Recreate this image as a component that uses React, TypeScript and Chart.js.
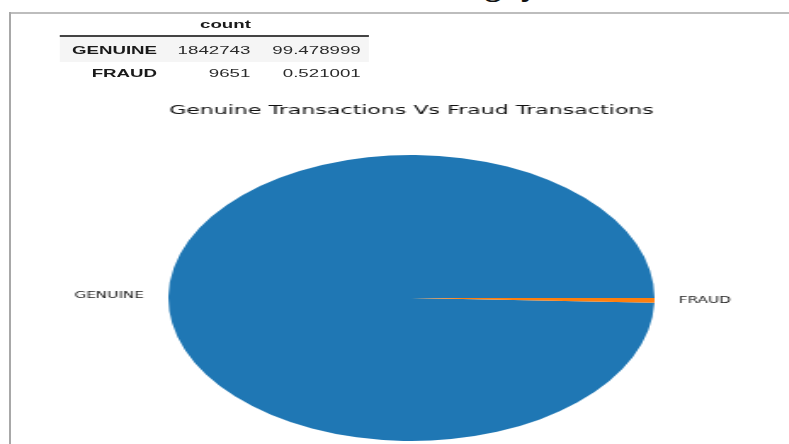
import React, { useEffect, useRef } from 'react';
import { Chart, registerables } from 'chart.js';
Chart.register(...registerables);

const categories = ['GENUINE', 'FRAUD'];
const counts = [1842743, 9651];
const percents = [99.478999, 0.521001];
const colors = ['#1f77b4', '#ff7f0e'];
const titleText = 'Genuine Transactions Vs Fraud Transactions';
const countHeader = 'count';

const SX = 1.7;
const W = 464;
const H = 444;

function Txt(props: { text: string; right: number; baseline: number; bold?: boolean }) {
  return (
    <div
      style={{
        position: 'absolute',
        right: W - props.right,
        top: props.baseline - 9.3,
        fontFamily: '"Liberation Sans", Arial, sans-serif',
        fontSize: 11,
        lineHeight: '11px',
        fontWeight: props.bold ? 'bold' : 'normal',
        color: props.bold ? '#1a1a1a' : '#2a2a2a',
        whiteSpace: 'nowrap',
      }}
    >
      {props.text}
    </div>
  );
}

export default function App() {
  const ref = useRef<HTMLCanvasElement>(null);
  useEffect(() => {
    const labelPlugin = {
      id: 'pieLabels',
      afterDatasetsDraw(chart: any) {
        const ctx = chart.ctx;
        const meta = chart.getDatasetMeta(0);
        ctx.save();
        ctx.font = '9px "DejaVu Sans"';
        ctx.fillStyle = '#222';
        ctx.textBaseline = 'middle';
        meta.data.forEach((arc: any, i: number) => {
          const p = arc.getProps(['x', 'y', 'startAngle', 'endAngle', 'outerRadius'], true);
          const mid = (p.startAngle + p.endAngle) / 2;
          const lx = p.x + Math.cos(mid) * p.outerRadius * 1.1;
          const ly = p.y + Math.sin(mid) * p.outerRadius * 1.1;
          ctx.textAlign = Math.cos(mid) >= 0 ? 'left' : 'right';
          ctx.fillText(chart.data.labels[i], lx, ly);
        });
        ctx.restore();
      },
    };
    const total = counts.reduce((a, b) => a + b, 0);
    const chart = new Chart(ref.current as HTMLCanvasElement, {
      type: 'pie',
      data: {
        labels: categories,
        datasets: [{ data: counts, backgroundColor: colors, borderWidth: 0, hoverOffset: 0 }],
      },
      options: {
        responsive: false,
        animation: false,
        devicePixelRatio: 1,
        events: [],
        rotation: 90 + (counts[1] / total) * 360,
        layout: { padding: { left: 99, right: 79, top: 0, bottom: 3 } },
        plugins: {
          legend: { display: false },
          tooltip: { enabled: false },
          title: {
            display: true,
            text: titleText,
            color: '#111',
            font: { family: 'DejaVu Sans', size: 13, weight: 'normal', lineHeight: 1.2 },
            padding: { top: 102.5, bottom: 36.9 },
          },
        },
      } as any,
      plugins: [labelPlugin],
    });
    return () => chart.destroy();
  }, []);

  const rowBase = [54, 77];
  return (
    <div style={{ position: 'absolute', left: 0, top: 0, width: 789, height: 444, overflow: 'hidden', background: '#fff' }}>
      <span style={{ position: 'absolute', left: 483, top: -40, fontFamily: '"Liberation Serif", serif', fontSize: 40, lineHeight: '40px', color: '#111' }}>g</span>
      <span style={{ position: 'absolute', left: 521, top: -40, fontFamily: '"Liberation Serif", serif', fontSize: 40, lineHeight: '40px', color: '#111' }}>y</span>
      <div style={{ position: 'absolute', left: 9, top: 12, width: 780, height: 2, background: '#bdbdbd' }} />
      <div style={{ position: 'absolute', left: 9, top: 12, width: 2, height: 432, background: '#a8a8a8' }} />
      <div
        style={{
          position: 'absolute',
          left: 0,
          top: 0,
          width: W,
          height: H,
          transform: `scaleX(${SX})`,
          transformOrigin: '0 0',
        }}
      >
        <canvas ref={ref} width={W} height={H} style={{ position: 'absolute', left: 0, top: 0, width: W, height: H }} />
        <div style={{ position: 'absolute', left: 35.3, top: 37, width: 181.7, height: 25, background: '#f5f5f5' }} />
        <div style={{ position: 'absolute', left: 35.3, top: 35, width: 181.7, height: 2, background: '#444' }} />
        <Txt text={countHeader} right={147.6} baseline={28} bold />
        {categories.map((c, i) => (
          <React.Fragment key={c}>
            <Txt text={c} right={92.4} baseline={rowBase[i]} bold />
            <Txt text={String(counts[i])} right={147.3} baseline={rowBase[i]} />
            <Txt text={percents[i].toFixed(6)} right={212.2} baseline={rowBase[i]} />
          </React.Fragment>
        ))}
      </div>
    </div>
  );
}
